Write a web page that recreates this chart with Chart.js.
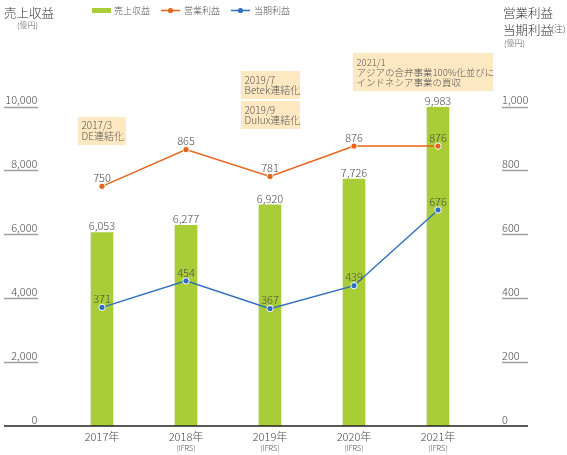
<!DOCTYPE html>
<html>
<head>
<meta charset="utf-8">
<script src="https://cdn.jsdelivr.net/npm/chart.js@4.4.0/dist/chart.umd.min.js"></script>
<style>
  html, body { margin: 0; padding: 0; background: #fff; }
  #wrap { width: 567px; height: 455px; position: relative; }
</style>
</head>
<body>
<div id="wrap"><canvas id="grafico"></canvas></div>
<script>
// dati
const years = ['2017年', '2018年', '2019年', '2020年', '2021年'];
const subLabels = ['', '(IFRS)', '(IFRS)', '(IFRS)', '(IFRS)'];
const revenue = [6053, 6277, 6920, 7726, 9983];     // 売上収益 (億円)
const opProfit = [750, 865, 781, 876, 876];         // 営業利益
const netProfit = [371, 454, 367, 439, 676];        // 当期利益
const leftTicks = [0, 2000, 4000, 6000, 8000, 10000];
const rightTicks = [0, 200, 400, 600, 800, 1000];
const noteCats = [0, 2, 2, 4];
const noteTexts = [
  ['2017/3', 'DE連結化'],
  ['2019/7', 'Betek連結化'],
  ['2019/9', 'Dulux連結化'],
  ['2021/1', 'アジアの合弁事業100%化並びに', 'インドネシア事業の買収']
];

const FONT = "'Noto Sans CJK JP', 'Noto Sans', sans-serif";
const W = '300 ';
const GREEN = '#a9cd37';
const ORANGE = '#e8641b';
const BLUE = '#2f6fbd';
const TXT = '#4a4a4a';

// posizione dei riquadri note (dx dal centro categoria, y, larghezza, altezza, passo riga)
const noteBox = [
  { dx: -24, y: 117, w: 48, h: 28, lh: 11, fs: 10 },
  { dx: -29, y: 71, w: 59, h: 28, lh: 10.5, fs: 10 },
  { dx: -29, y: 101, w: 59, h: 28, lh: 10.5, fs: 10 },
  { dx: -85, y: 53, w: 140, h: 38, lh: 10, fs: 9.5 }
];

function fmt(v){ return v.toLocaleString('en-US'); }

const decor = {
  id: 'decor',
  beforeDraw(chart){
    const c = chart.ctx;
    const x = chart.scales.x;
    c.save();
    c.textBaseline = 'middle';
    c.textAlign = 'left';
    // titoli assi
    c.fillStyle = '#333';
    c.font = W + '12.5px ' + FONT;
    c.fillText('売上収益', 4, 13);
    c.fillText('営業利益', 503, 13);
    c.fillText('当期利益', 503, 30);
    c.font = W + '8px ' + FONT;
    c.fillStyle = '#555';
    c.fillText('(億円)', 17, 25);
    c.fillText('(億円)', 504, 43);
    c.font = W + '9px ' + FONT;
    c.fillText('(注)', 551, 29);

    // legenda
    c.font = W + '9px ' + FONT;
    c.fillStyle = GREEN;
    c.fillRect(92, 8, 19, 5);
    c.fillStyle = '#555';
    c.fillText(chart.data.datasets[0].label, 114, 10.5);
    [[ORANGE, 161, 1], [BLUE, 231, 2]].forEach(function(l){
      c.strokeStyle = l[0];
      c.lineWidth = 1.5;
      c.beginPath(); c.moveTo(l[1], 10.5); c.lineTo(l[1] + 19, 10.5); c.stroke();
      c.fillStyle = l[0];
      c.beginPath(); c.arc(l[1] + 9.5, 10.5, 2.6, 0, Math.PI * 2); c.fill();
      c.fillStyle = '#555';
      c.fillText(chart.data.datasets[l[2]].label, l[1] + 23, 10.5);
    });

    // riquadri note
    noteTexts.forEach(function(lines, i){
      const b = noteBox[i];
      const left = x.getPixelForValue(noteCats[i]) + b.dx;
      c.fillStyle = '#fde8c2';
      c.fillRect(left, b.y, b.w, b.h);
      c.fillStyle = '#555';
      c.font = W + b.fs + 'px ' + FONT;
      const y0 = b.y + b.h / 2 - (lines.length - 1) * b.lh / 2;
      lines.forEach(function(t, k){ c.fillText(t, left + 3.5, y0 + k * b.lh); });
    });
    c.restore();
  },
  afterDatasetsDraw(chart){
    const c = chart.ctx;
    const x = chart.scales.x, y = chart.scales.y, y1 = chart.scales.y1;
    c.save();
    // sottolineature dei tick
    c.strokeStyle = '#a0a0a0';
    c.lineWidth = 1.5;
    leftTicks.forEach(function(v){
      if(v === 0) return;
      const py = Math.round(y.getPixelForValue(v)) + 0.5;
      c.beginPath(); c.moveTo(4, py); c.lineTo(38, py); c.stroke();
    });
    rightTicks.forEach(function(v){
      if(v === 0) return;
      const py = Math.round(y1.getPixelForValue(v)) + 0.5;
      c.beginPath(); c.moveTo(502, py); c.lineTo(528, py); c.stroke();
    });
    // asse orizzontale
    c.strokeStyle = '#222';
    c.lineWidth = 1.5;
    const by = y.getPixelForValue(0);
    c.beginPath(); c.moveTo(4, by); c.lineTo(528, by); c.stroke();

    // sotto etichette (IFRS)
    c.fillStyle = '#555';
    c.font = W + '7.5px ' + FONT;
    c.textAlign = 'center';
    c.textBaseline = 'middle';
    subLabels.forEach(function(t, i){
      if(t) c.fillText(t, x.getPixelForValue(i), 448.5);
    });

    // valori
    c.fillStyle = TXT;
    c.font = W + '11px ' + FONT;
    c.textBaseline = 'bottom';
    revenue.forEach(function(v, i){
      c.fillText(fmt(v), x.getPixelForValue(i), y.getPixelForValue(v) - 1);
    });
    opProfit.forEach(function(v, i){
      c.fillText(fmt(v), x.getPixelForValue(i), y1.getPixelForValue(v) - 3);
    });
    netProfit.forEach(function(v, i){
      c.fillText(fmt(v), x.getPixelForValue(i), y1.getPixelForValue(v) - 3);
    });
    c.restore();
  }
};

const ctx = document.getElementById('grafico').getContext('2d');
new Chart(ctx, {
  type: 'bar',
  data: {
    labels: years,
    datasets: [
      {
        type: 'bar',
        label: '売上収益',
        data: revenue,
        yAxisID: 'y',
        backgroundColor: GREEN,
        barThickness: 22,
        order: 3
      },
      {
        type: 'line',
        label: '営業利益',
        data: opProfit,
        yAxisID: 'y1',
        borderColor: ORANGE,
        backgroundColor: ORANGE,
        borderWidth: 1.5,
        pointRadius: 3.2,
        pointBorderColor: '#fff',
        pointBorderWidth: 1,
        tension: 0,
        order: 1
      },
      {
        type: 'line',
        label: '当期利益',
        data: netProfit,
        yAxisID: 'y1',
        borderColor: BLUE,
        backgroundColor: BLUE,
        borderWidth: 1.5,
        pointRadius: 3.2,
        pointBorderColor: '#fff',
        pointBorderWidth: 1,
        tension: 0,
        order: 2
      }
    ]
  },
  options: {
    responsive: true,
    maintainAspectRatio: false,
    animation: false,
    layout: { padding: { top: 106.5, left: 0, right: 0, bottom: 0 } },
    plugins: {
      legend: { display: false },
      tooltip: { enabled: false }
    },
    scales: {
      x: {
        grid: { display: false, drawTicks: false },
        border: { display: false },
        ticks: { color: TXT, font: { family: FONT, size: 11, weight: 300 }, padding: 4 },
        afterFit(s){ s.height = 28.5; }
      },
      y: {
        position: 'left',
        min: 0, max: 10000,
        afterBuildTicks(s){ s.ticks = leftTicks.map(function(v){ return { value: v }; }); },
        grid: { display: false, drawTicks: false },
        border: { display: false },
        ticks: {
          color: TXT, font: { family: FONT, size: 11, weight: 300 },
          padding: 22.5, labelOffset: -6.5,
          callback: function(v){ return fmt(v); }
        },
        afterFit(s){ s.width = 60; }
      },
      y1: {
        position: 'right',
        min: 0, max: 1000,
        afterBuildTicks(s){ s.ticks = rightTicks.map(function(v){ return { value: v }; }); },
        grid: { display: false, drawTicks: false },
        border: { display: false },
        ticks: {
          color: TXT, font: { family: FONT, size: 11, weight: 300 },
          padding: 22, labelOffset: -6.5,
          callback: function(v){ return fmt(v); }
        },
        afterFit(s){ s.width = 87; }
      }
    }
  },
  plugins: [decor]
});
</script>
</body>
</html>
